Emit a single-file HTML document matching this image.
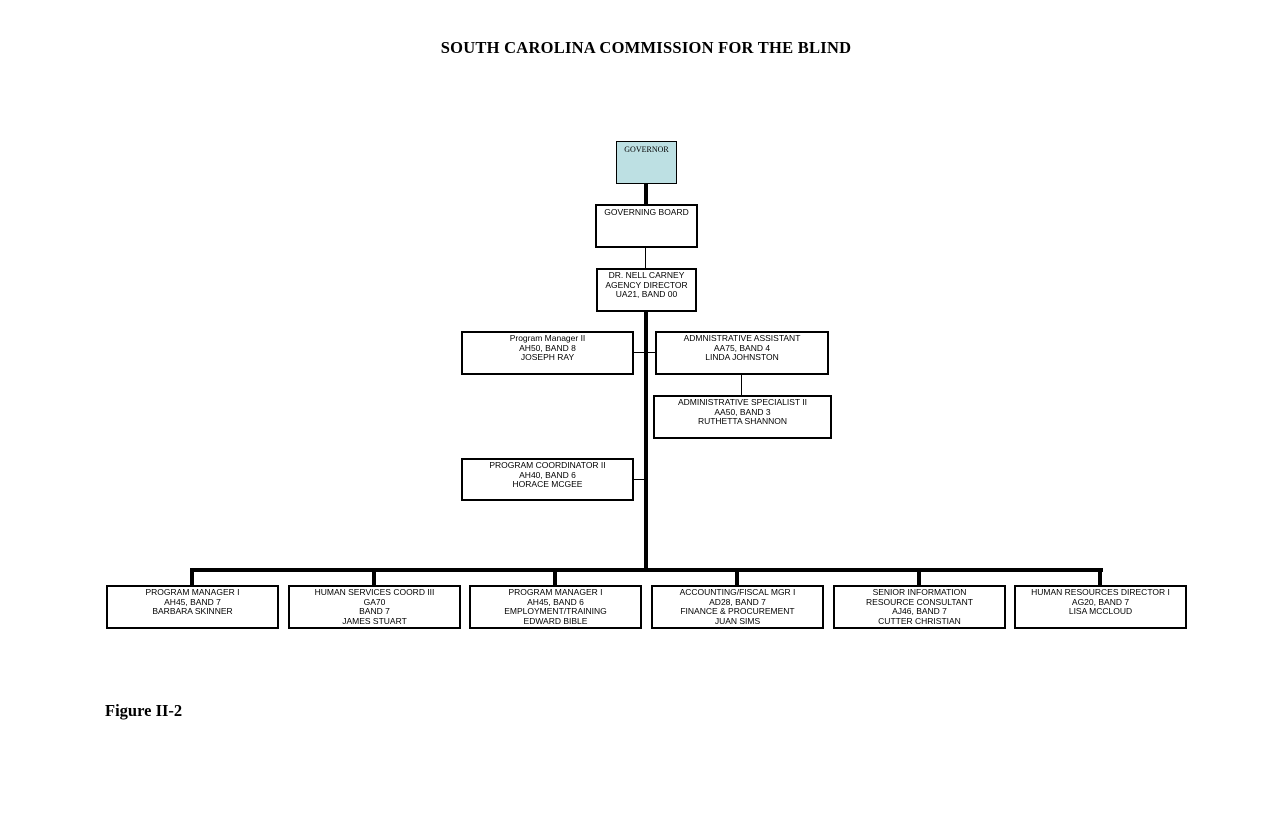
<!DOCTYPE html>
<html><head><style>
body{margin:0;width:1274px;height:817px;background:#fff;position:relative;overflow:hidden}
.b{position:absolute;box-sizing:border-box;border:2px solid #000;background:#fff;font-family:"Liberation Sans",Arial,sans-serif;font-size:8.5px;line-height:9.7px;text-align:center;padding-top:1px;color:#000}
.l{position:absolute;background:#000}
.t{position:absolute;font-family:"Liberation Serif",serif;font-weight:bold;color:#000}
</style></head><body>
<div class="t" style="left:0;width:1292px;text-align:center;top:38px;font-size:16.5px;letter-spacing:0.25px">SOUTH CAROLINA COMMISSION FOR THE BLIND</div>
<div class="t" style="left:105px;top:701px;font-size:16.5px">Figure II-2</div>

<div class="l" style="left:644px;top:182px;width:4px;height:24px"></div>
<div class="l" style="left:645px;top:246px;width:1px;height:23px"></div>
<div class="l" style="left:644px;top:310px;width:4px;height:262px"></div>
<div class="l" style="left:632px;top:352px;width:24px;height:1px"></div>
<div class="l" style="left:741px;top:373px;width:1px;height:23px"></div>
<div class="l" style="left:632px;top:479px;width:14px;height:1px"></div>
<div class="l" style="left:190px;top:568px;width:913px;height:4px"></div>
<div class="l" style="left:190px;top:568px;width:4px;height:18px"></div>
<div class="l" style="left:372px;top:568px;width:4px;height:18px"></div>
<div class="l" style="left:553px;top:568px;width:4px;height:18px"></div>
<div class="l" style="left:735px;top:568px;width:4px;height:18px"></div>
<div class="l" style="left:917px;top:568px;width:4px;height:18px"></div>
<div class="l" style="left:1098px;top:568px;width:4px;height:18px"></div>

<div class="b" style="left:616px;top:141px;width:61px;height:43px;background:#bde0e3;border-width:1px;font-family:'Liberation Serif',serif;font-size:8px;padding-top:3px">GOVERNOR</div>
<div class="b" style="left:595px;top:204px;width:103px;height:44px;padding-top:2px">GOVERNING BOARD</div>
<div class="b" style="left:596px;top:268px;width:101px;height:44px">DR. NELL CARNEY<br>AGENCY DIRECTOR<br>UA21, BAND 00</div>
<div class="b" style="left:461px;top:331px;width:173px;height:44px">Program Manager II<br>AH50, BAND 8<br>JOSEPH RAY</div>
<div class="b" style="left:655px;top:331px;width:174px;height:44px">ADMNISTRATIVE ASSISTANT<br>AA75, BAND 4<br>LINDA JOHNSTON</div>
<div class="b" style="left:653px;top:395px;width:179px;height:44px">ADMINISTRATIVE SPECIALIST II<br>AA50, BAND 3<br>RUTHETTA SHANNON</div>
<div class="b" style="left:461px;top:458px;width:173px;height:43px">PROGRAM COORDINATOR II<br>AH40, BAND 6<br>HORACE MCGEE</div>

<div class="b" style="left:106px;top:585px;width:173px;height:44px">PROGRAM MANAGER I<br>AH45, BAND 7<br>BARBARA SKINNER</div>
<div class="b" style="left:288px;top:585px;width:173px;height:44px">HUMAN SERVICES COORD III<br>GA70<br>BAND 7<br>JAMES STUART</div>
<div class="b" style="left:469px;top:585px;width:173px;height:44px">PROGRAM MANAGER I<br>AH45, BAND 6<br>EMPLOYMENT/TRAINING<br>EDWARD BIBLE</div>
<div class="b" style="left:651px;top:585px;width:173px;height:44px">ACCOUNTING/FISCAL MGR I<br>AD28, BAND 7<br>FINANCE &amp; PROCUREMENT<br>JUAN SIMS</div>
<div class="b" style="left:833px;top:585px;width:173px;height:44px">SENIOR INFORMATION<br>RESOURCE CONSULTANT<br>AJ46, BAND 7<br>CUTTER CHRISTIAN</div>
<div class="b" style="left:1014px;top:585px;width:173px;height:44px">HUMAN RESOURCES DIRECTOR I<br>AG20, BAND 7<br>LISA MCCLOUD</div>
</body></html>
